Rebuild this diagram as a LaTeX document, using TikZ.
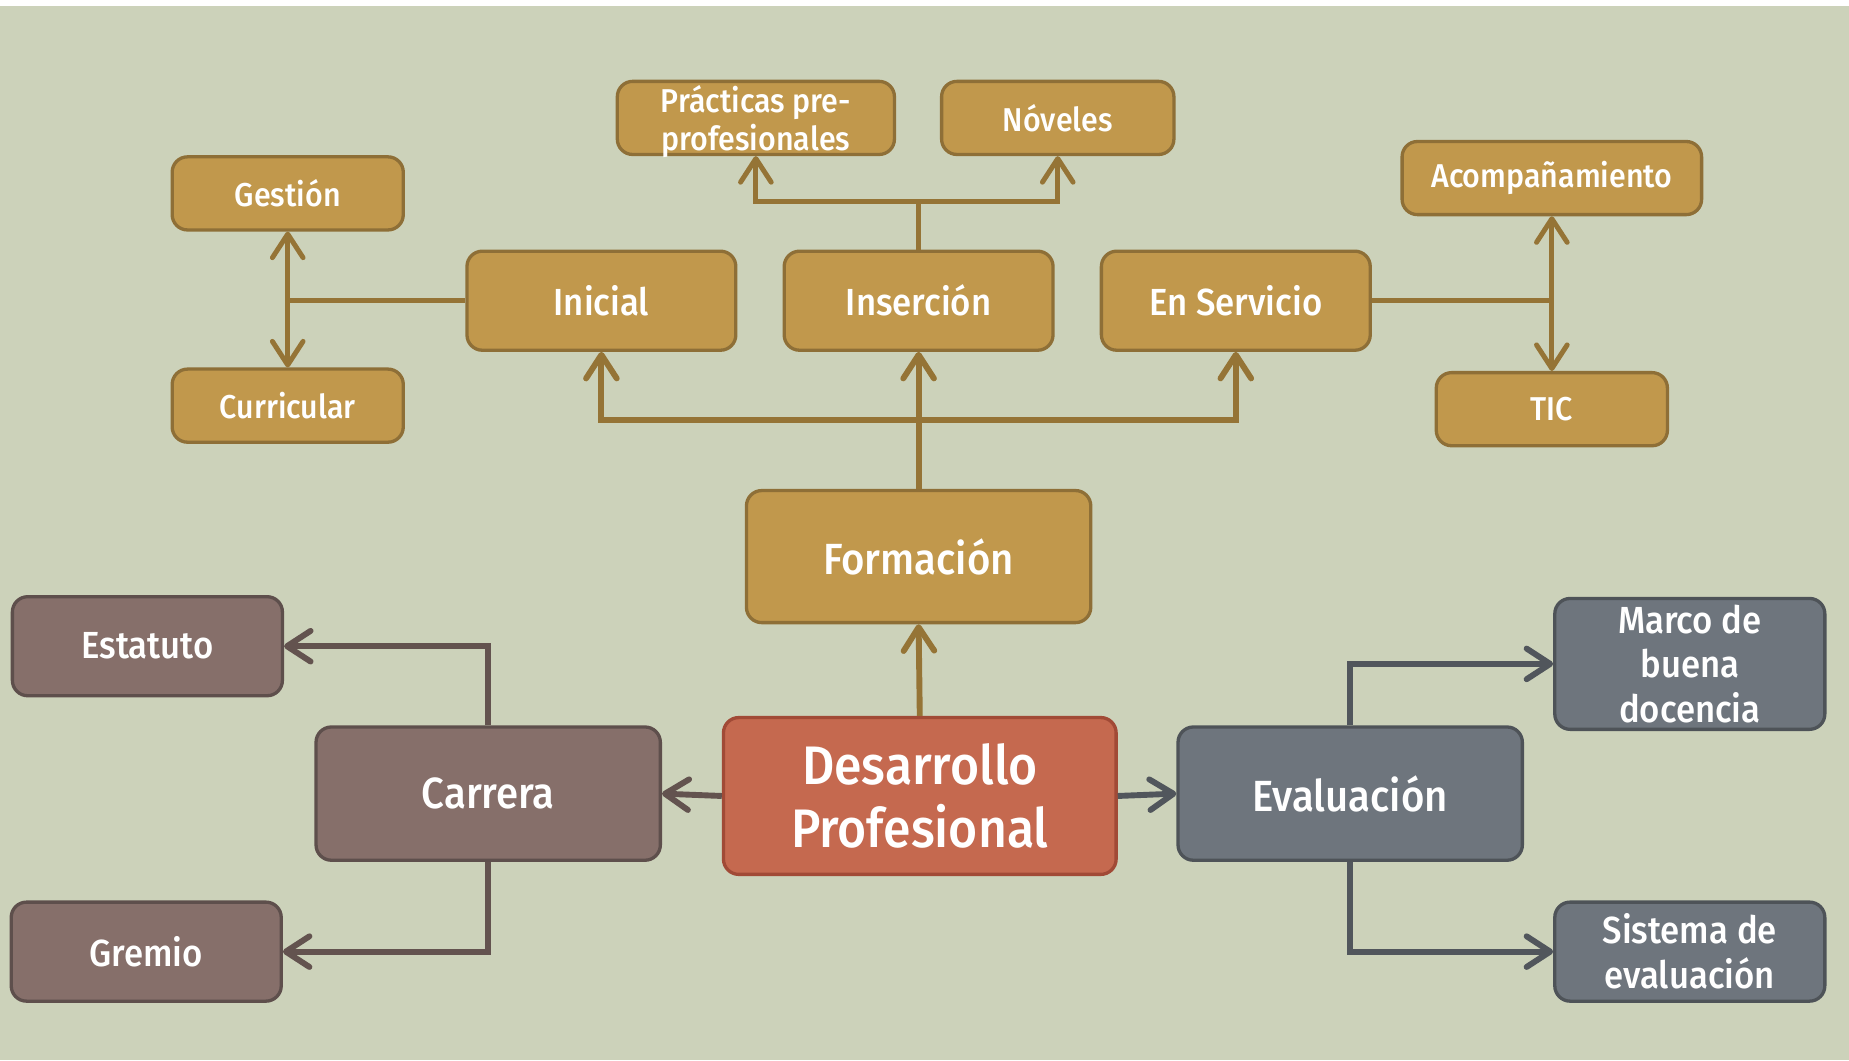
\documentclass[tikz,border=0pt]{standalone}
\usepackage{fontspec}
\setmainfont{Fira Sans}[UprightFont=* Medium, FakeStretch=0.92]
\usetikzlibrary{arrows.meta}
\definecolor{bgc}{HTML}{CCD2BA}
\definecolor{goldF}{HTML}{C1984C}
\definecolor{goldD}{HTML}{8E6F37}
\definecolor{goldL}{HTML}{957436}
\definecolor{brnF}{HTML}{866F6A}
\definecolor{brnD}{HTML}{5E4F4C}
\definecolor{brnL}{HTML}{63534F}
\definecolor{gryF}{HTML}{6E757D}
\definecolor{gryD}{HTML}{4E5358}
\definecolor{gryL}{HTML}{51565C}
\definecolor{redF}{HTML}{C5694F}
\definecolor{redD}{HTML}{A14A36}
\tikzset{
  box/.style={rounded corners=13pt, line width=2.8pt, text=white, align=center, inner sep=0pt},
  goldbox/.style={box, fill=goldF, draw=goldD},
  brnbox/.style={box, fill=brnF, draw=brnD},
  grybox/.style={box, fill=gryF, draw=gryD},
  redbox/.style={box, fill=redF, draw=redD},
  conn/.style={line width=4.2pt, line join=miter, >={Straight Barb[length=20pt,width=26pt,round]}},
  gconn/.style={conn, draw=goldL},
  gconnthick/.style={conn, draw=goldL, line width=5pt},
  bconn/.style={conn, draw=brnL, line width=5pt},
  yconn/.style={conn, draw=gryL, line width=5pt},
  fsmall/.style={font=\fontsize{28}{32}\selectfont},
  fmid/.style={font=\fontsize{32}{38}\selectfont},
  fbig/.style={font=\fontsize{37}{44}\selectfont},
  fhuge/.style={font=\fontsize{46}{54}\selectfont},
}
\begin{document}
\begin{tikzpicture}[x=1pt,y=-1pt]
\fill[white] (0,0) rectangle (1568,899);
\fill[bgc] (0,5) rectangle (1568,899);
\useasboundingbox (0,0) rectangle (1568,899);
% small gold boxes
\node[goldbox, fsmall, minimum width=196pt, minimum height=62pt] (ges) at (244,164) {Gestión};
\node[goldbox, fsmall, minimum width=196pt, minimum height=62pt] (cur) at (244,344) {Curricular};
\node[goldbox, fsmall, minimum width=235pt, minimum height=62pt, text depth=-1pt] (pra) at (641,100) {Prácticas pre-\\profesionales};
\node[goldbox, fsmall, minimum width=197pt, minimum height=62pt] (nov) at (897,100) {Nóveles};
\node[goldbox, fsmall, minimum width=254pt, minimum height=62pt] (aco) at (1316,151) {Acompañamiento};
\node[goldbox, fsmall, minimum width=196pt, minimum height=62pt] (tic) at (1316,347) {TIC};
% middle gold boxes
\node[goldbox, fmid, minimum width=228pt, minimum height=84pt] (ini) at (510,255) {Inicial};
\node[goldbox, fmid, minimum width=228pt, minimum height=84pt] (ins) at (779,255) {Inserción};
\node[goldbox, fmid, minimum width=228pt, minimum height=84pt] (ens) at (1048,255) {En Servicio};
\node[goldbox, fbig, minimum width=292pt, minimum height=112pt] (for) at (779,472) {Formación};
% center
\node[redbox, fhuge, minimum width=333pt, minimum height=133pt] (des) at (780,675) {Desarrollo\\Profesional};
% brown
\node[brnbox, fbig, minimum width=292pt, minimum height=113pt] (car) at (414,673) {Carrera};
\node[brnbox, fmid, minimum width=229pt, minimum height=84pt] (est) at (125,548) {Estatuto};
\node[brnbox, fmid, minimum width=229pt, minimum height=84pt] (gre) at (124,807) {Gremio};
% grey
\node[grybox, fbig, minimum width=292pt, minimum height=113pt] (eva) at (1145,673) {Evaluación};
\node[grybox, fmid, minimum width=229pt, minimum height=111pt] (mar) at (1433,563) {Marco de\\buena\\docencia};
\node[grybox, fmid, minimum width=229pt, minimum height=84pt] (sis) at (1433,807) {Sistema de\\evaluación};
% junctions
\coordinate (insj) at (779,171);
\coordinate (forj) at (779,356);
% connectors top
\draw[gconn, <->] (ges.south) -- (cur.north);
\draw[gconn] (ini.west) -- (ini.west -| ges.south);
\draw[gconn] (ins.north) -- (insj);
\draw[gconn, ->] (insj) -| (pra.south);
\draw[gconn, ->] (insj) -| (nov.south);
\draw[gconn] (ens.east) -- (ens.east -| aco.south);
\draw[gconn, <->] (aco.south) -- (tic.north);
\draw[gconnthick, ->] (for.north) -- (ins.south);
\draw[gconnthick, ->] (forj) -| (ini.south);
\draw[gconnthick, ->] (forj) -| (ens.south);
\draw[gconnthick, ->] (des.north) -- (for.south);
% connectors bottom
\draw[bconn, ->] (des.west) -- (car.east);
\draw[bconn, ->] (car.north) |- (est.east);
\draw[bconn, ->] (car.south) |- (gre.east);
\draw[yconn, ->] (des.east) -- (eva.west);
\draw[yconn, ->] (eva.north) |- (mar.west);
\draw[yconn, ->] (eva.south) |- (sis.west);
\end{tikzpicture}
\end{document}
